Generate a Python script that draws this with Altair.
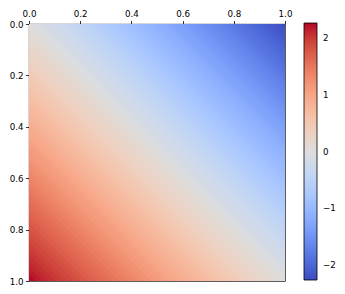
import altair as alt
import pandas as pd

# Centres of the diagonal bands on one side, measured as |d| with d = y - x (y runs downward)
half_offsets = [0.0125, 0.0375, 0.0625, 0.0875, 0.1125, 0.1375, 0.1625, 0.1875,
                0.2125, 0.2375, 0.2625, 0.2875, 0.3125, 0.3375, 0.3625, 0.3875,
                0.4125, 0.4375, 0.4625, 0.4875, 0.5125, 0.5375, 0.5625, 0.5875,
                0.6125, 0.6375, 0.6625, 0.6875, 0.7125, 0.7375, 0.7625, 0.7875,
                0.8125, 0.8375, 0.8625, 0.8875, 0.9125, 0.9375, 0.9625, 0.9875]
# Value read along the diagonal (the field is antisymmetric about the main diagonal)
half_values = [0.03, 0.09, 0.14, 0.20, 0.26, 0.31, 0.37, 0.43,
               0.48, 0.54, 0.60, 0.65, 0.71, 0.77, 0.82, 0.88,
               0.94, 0.99, 1.05, 1.11, 1.16, 1.22, 1.28, 1.33,
               1.39, 1.45, 1.50, 1.56, 1.62, 1.67, 1.73, 1.79,
               1.84, 1.90, 1.96, 2.01, 2.07, 2.13, 2.18, 2.24]
diag_offsets = [-d for d in reversed(half_offsets)] + half_offsets
diag_values = [-v for v in reversed(half_values)] + half_values
band_half = 0.0125

axis_ticks = [0.0, 0.2, 0.4, 0.6, 0.8, 1.0]
cbar_ticks = [-2, -1, 0, 1, 2]
value_range = [-2.27, 2.27]

coolwarm = ["#3b4cc0", "#445acc", "#4d68d7", "#5775e1", "#6282ea", "#6c8ef1",
            "#779af7", "#82a5fb", "#8db0fe", "#98b9ff", "#a3c2ff", "#aec9fd",
            "#b8d0f9", "#c2d5f4", "#ccd9ee", "#d5dbe6", "#dddddd", "#e5d8d1",
            "#ecd3c5", "#f1ccb9", "#f5c4ad", "#f7bba0", "#f7b194", "#f7a687",
            "#f49a7b", "#f18d6f", "#ec7f63", "#e57058", "#de604d", "#d55042",
            "#cb3e38", "#c0282f", "#b40426"]


def clamp(t):
    return min(1.0, max(0.0, t))


eps = 0.003
rows = []
for k, (c, v) in enumerate(zip(diag_offsets, diag_values)):
    lo, hi = c - band_half - eps, c + band_half + eps
    xs = sorted({clamp(t) for t in (0.0, -lo, -hi, 1.0 - lo, 1.0 - hi, 1.0)})
    for xv in xs:
        rows.append({"band": k, "x": xv, "y": clamp(xv + lo), "y2": clamp(xv + hi), "v": v})
df = pd.DataFrame(rows)

n = len(coolwarm)
cdomain = [value_range[0] + (value_range[1] - value_range[0]) * i / (n - 1) for i in range(n)]

font = "DejaVu Sans"
common_axis = dict(values=axis_ticks, format=".1f", title=None, grid=False, domain=False,
                   tickSize=3.5, tickColor="black", tickWidth=0.8, labelPadding=2.5,
                   labelFlush=False, labelOverlap=False, labelFont=font,
                   labelFontSize=8.7, labelColor="black")

chart = alt.Chart(df).mark_area(interpolate="linear", opacity=1).encode(
    x=alt.X("x:Q", scale=alt.Scale(domain=[0, 1], nice=False, zero=False),
            axis=alt.Axis(orient="top", **common_axis)),
    y=alt.Y("y:Q", scale=alt.Scale(domain=[0, 1], nice=False, zero=False, reverse=True),
            axis=alt.Axis(orient="left", **common_axis)),
    y2="y2:Q",
    detail="band:N",
    color=alt.Color("v:Q",
                    scale=alt.Scale(domain=cdomain, range=coolwarm, interpolate="rgb", clamp=True),
                    legend=alt.Legend(orient="none", legendX=275, legendY=-1, title=None,
                                      direction="vertical", gradientLength=257,
                                      gradientThickness=13, gradientStrokeColor="black",
                                      gradientStrokeWidth=0.8, values=cbar_ticks, format="d",
                                      labelExpr="replace(datum.label, '-', '\u2212')",
                                      labelFontSize=8.7, labelFont=font, labelColor="black",
                                      labelOffset=6, padding=0)),
).properties(
    width=256, height=257,
    autosize=alt.AutoSizeParams(type="none"),
    padding={"left": 21, "top": 16, "right": 52, "bottom": 5},
).configure_view(stroke="black", strokeWidth=0.8)

chart.save("out.html", embed_options={"renderer": "svg", "actions": False})
